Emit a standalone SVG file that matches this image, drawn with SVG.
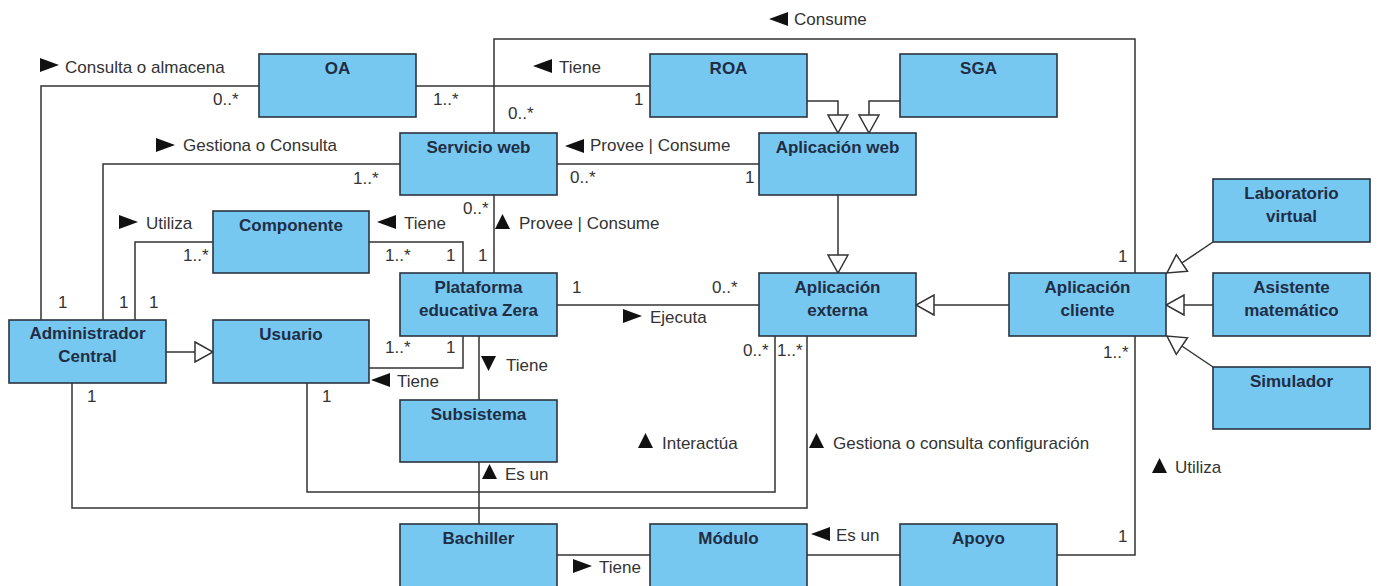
<svg xmlns="http://www.w3.org/2000/svg" xmlns:xlink="http://www.w3.org/1999/xlink" width="1377" height="586" viewBox="0 0 1377 586">
  <style>
    .box { fill: #77c8f0; stroke: #2b3440; stroke-width: 1.6; }
    .title { font-family: "Liberation Sans", Arial, sans-serif; font-size: 17px; font-weight: bold; fill: #1f2d45; text-anchor: middle; }
    .lbl { font-family: "Liberation Sans", Arial, sans-serif; font-size: 17px; fill: #333; }
    .conn { fill: none; stroke: #333; stroke-width: 1.5; }
    .gen { marker-end: url(#hollow); }
    .dir { fill: #111; }
  </style>
  <defs>
    <marker id="hollow" viewBox="0 0 20 22" refX="19" refY="11" markerWidth="20" markerHeight="22" markerUnits="userSpaceOnUse" orient="auto">
      <path d="M1,1 L19,11 L1,21 Z" fill="#fff" stroke="#333" stroke-width="1.5"/>
    </marker>
    <polygon id="tri-r" points="0,0 19,7 0,14"/>
    <polygon id="tri-l" points="19,0 0,7 19,14"/>
    <polygon id="tri-u" points="0,15 7.5,0 15,15"/>
    <polygon id="tri-d" points="0,0 15,0 7.5,15"/>
  </defs>

  <!-- connectors -->
  <g id="connectors">
    <!-- Administrador Central -> OA -->
    <polyline class="conn" points="41,320 41,86 259,86"/>
    <!-- Administrador Central -> Servicio web -->
    <polyline class="conn" points="103,320 103,164 400,164"/>
    <!-- Administrador Central -> Componente -->
    <polyline class="conn" points="135,320 135,242 213,242"/>
    <!-- OA - ROA -->
    <polyline class="conn" points="416,86 650,86"/>
    <!-- Servicio web - Aplicacion cliente -->
    <polyline class="conn" points="494,133 494,39 1135,39 1135,273"/>
    <!-- Servicio web - Aplicacion web -->
    <polyline class="conn" points="557,164 759,164"/>
    <!-- Servicio web - Plataforma -->
    <polyline class="conn" points="494,195 494,273"/>
    <!-- Componente - Plataforma -->
    <polyline class="conn" points="369,242 463,242 463,273"/>
    <!-- Usuario - Plataforma -->
    <polyline class="conn" points="369,368 463,368 463,336"/>
    <!-- Plataforma - Subsistema -->
    <polyline class="conn" points="479,336 479,400"/>
    <!-- Bachiller - Subsistema -->
    <polyline class="conn" points="479,524 479,462"/>
    <!-- Plataforma - Aplicacion externa -->
    <polyline class="conn" points="557,305 759,305"/>
    <!-- Usuario - Aplicacion externa -->
    <polyline class="conn" points="307,383 307,492 775,492 775,336"/>
    <!-- Administrador Central - Aplicacion externa -->
    <polyline class="conn" points="72,383 72,508 807,508 807,336"/>
    <!-- Aplicacion cliente - Apoyo -->
    <polyline class="conn" points="1135,336 1135,555 1057,555"/>
    <!-- Bachiller - Modulo -->
    <polyline class="conn" points="557,555 650,555"/>
    <!-- Modulo - Apoyo -->
    <polyline class="conn" points="807,555 900,555"/>

    <!-- generalizations -->
    <polyline class="conn gen" points="807,101 838,101 838,133"/>
    <polyline class="conn gen" points="900,101 869,101 869,133"/>
    <polyline class="conn gen" points="838,195 838,273"/>
    <polyline class="conn gen" points="166,352 213,352"/>
    <polyline class="conn gen" points="1009,305 916,305"/>
    <polyline class="conn gen" points="1213,242 1167,273"/>
    <polyline class="conn gen" points="1213,305 1166,305"/>
    <polyline class="conn gen" points="1213,367 1167,336"/>

    <!-- association names -->
    <use href="#tri-r" class="dir" x="40" y="58"/>
    <text class="lbl" x="65" y="73">Consulta o almacena</text>
    <use href="#tri-r" class="dir" x="156" y="138"/>
    <text class="lbl" x="183" y="151">Gestiona o Consulta</text>
    <use href="#tri-l" class="dir" x="533" y="59"/>
    <text class="lbl" x="559" y="73">Tiene</text>
    <use href="#tri-l" class="dir" x="769" y="12"/>
    <text class="lbl" x="794" y="25">Consume</text>
    <use href="#tri-l" class="dir" x="565" y="139"/>
    <text class="lbl" x="590" y="151">Provee | Consume</text>
    <use href="#tri-r" class="dir" x="119" y="215"/>
    <text class="lbl" x="146" y="229">Utiliza</text>
    <use href="#tri-l" class="dir" x="377" y="215"/>
    <text class="lbl" x="404" y="229">Tiene</text>
    <use href="#tri-u" class="dir" x="495" y="214"/>
    <text class="lbl" x="519" y="229">Provee | Consume</text>
    <use href="#tri-r" class="dir" x="623" y="309"/>
    <text class="lbl" x="650" y="323">Ejecuta</text>
    <use href="#tri-l" class="dir" x="371" y="373"/>
    <text class="lbl" x="397" y="387">Tiene</text>
    <use href="#tri-d" class="dir" x="481" y="356"/>
    <text class="lbl" x="506" y="371">Tiene</text>
    <use href="#tri-u" class="dir" x="638" y="433"/>
    <text class="lbl" x="662" y="449">Interactúa</text>
    <use href="#tri-u" class="dir" x="809" y="433"/>
    <text class="lbl" x="833" y="449">Gestiona o consulta configuración</text>
    <use href="#tri-u" class="dir" x="482" y="464"/>
    <text class="lbl" x="505" y="480">Es un</text>
    <use href="#tri-u" class="dir" x="1152" y="458"/>
    <text class="lbl" x="1175" y="473">Utiliza</text>
    <use href="#tri-l" class="dir" x="811" y="527"/>
    <text class="lbl" x="836" y="541">Es un</text>
    <use href="#tri-r" class="dir" x="573" y="559"/>
    <text class="lbl" x="599" y="573">Tiene</text>

    <!-- multiplicities -->
    <text class="lbl" x="213" y="105">0..*</text>
    <text class="lbl" x="433" y="105">1..*</text>
    <text class="lbl" x="634" y="105">1</text>
    <text class="lbl" x="508" y="119">0..*</text>
    <text class="lbl" x="353" y="184">1..*</text>
    <text class="lbl" x="570" y="183">0..*</text>
    <text class="lbl" x="745" y="183">1</text>
    <text class="lbl" x="463" y="214">0..*</text>
    <text class="lbl" x="478" y="261">1</text>
    <text class="lbl" x="385" y="261">1..*</text>
    <text class="lbl" x="446" y="261">1</text>
    <text class="lbl" x="183" y="261">1..*</text>
    <text class="lbl" x="58" y="308">1</text>
    <text class="lbl" x="119" y="308">1</text>
    <text class="lbl" x="149" y="308">1</text>
    <text class="lbl" x="572" y="293">1</text>
    <text class="lbl" x="712" y="293">0..*</text>
    <text class="lbl" x="1118" y="262">1</text>
    <text class="lbl" x="385" y="353">1..*</text>
    <text class="lbl" x="446" y="353">1</text>
    <text class="lbl" x="743" y="356">0..*</text>
    <text class="lbl" x="777" y="356">1..*</text>
    <text class="lbl" x="87" y="402">1</text>
    <text class="lbl" x="322" y="402">1</text>
    <text class="lbl" x="1103" y="358">1..*</text>
    <text class="lbl" x="1118" y="542">1</text>
  </g>

  <!-- classes -->
  <g id="oa"><rect class="box" x="259" y="54" width="157" height="63"/><text class="title" x="337.5" y="74">OA</text></g>
  <g id="roa"><rect class="box" x="650" y="54" width="157" height="63"/><text class="title" x="728.5" y="74">ROA</text></g>
  <g id="sga"><rect class="box" x="900" y="54" width="157" height="63"/><text class="title" x="978.5" y="74">SGA</text></g>
  <g id="servicio-web"><rect class="box" x="400" y="133" width="157" height="62"/><text class="title" x="478.5" y="153">Servicio web</text></g>
  <g id="aplicacion-web"><rect class="box" x="759" y="133" width="157" height="62"/><text class="title" x="837.5" y="153">Aplicación web</text></g>
  <g id="componente"><rect class="box" x="213" y="211" width="156" height="62"/><text class="title" x="291" y="231">Componente</text></g>
  <g id="plataforma"><rect class="box" x="400" y="273" width="157" height="63"/><text class="title" x="478.5" y="293">Plataforma</text><text class="title" x="478.5" y="316">educativa Zera</text></g>
  <g id="aplicacion-externa"><rect class="box" x="759" y="273" width="157" height="63"/><text class="title" x="837.5" y="293">Aplicación</text><text class="title" x="837.5" y="316">externa</text></g>
  <g id="aplicacion-cliente"><rect class="box" x="1009" y="273" width="157" height="63"/><text class="title" x="1087.5" y="293">Aplicación</text><text class="title" x="1087.5" y="316">cliente</text></g>
  <g id="laboratorio"><rect class="box" x="1213" y="179" width="157" height="63"/><text class="title" x="1291.5" y="199">Laboratorio</text><text class="title" x="1291.5" y="222">virtual</text></g>
  <g id="asistente"><rect class="box" x="1213" y="273" width="157" height="63"/><text class="title" x="1291.5" y="293">Asistente</text><text class="title" x="1291.5" y="316">matemático</text></g>
  <g id="simulador"><rect class="box" x="1213" y="367" width="157" height="62"/><text class="title" x="1291.5" y="387">Simulador</text></g>
  <g id="administrador"><rect class="box" x="9" y="320" width="157" height="63"/><text class="title" x="87.5" y="339">Administrador</text><text class="title" x="87.5" y="362">Central</text></g>
  <g id="usuario"><rect class="box" x="213" y="320" width="156" height="63"/><text class="title" x="291" y="340">Usuario</text></g>
  <g id="subsistema"><rect class="box" x="400" y="400" width="157" height="62"/><text class="title" x="478.5" y="420">Subsistema</text></g>
  <g id="bachiller"><rect class="box" x="400" y="524" width="157" height="63"/><text class="title" x="478.5" y="544">Bachiller</text></g>
  <g id="modulo"><rect class="box" x="650" y="524" width="157" height="63"/><text class="title" x="728.5" y="544">Módulo</text></g>
  <g id="apoyo"><rect class="box" x="900" y="524" width="157" height="63"/><text class="title" x="978.5" y="544">Apoyo</text></g>
</svg>
